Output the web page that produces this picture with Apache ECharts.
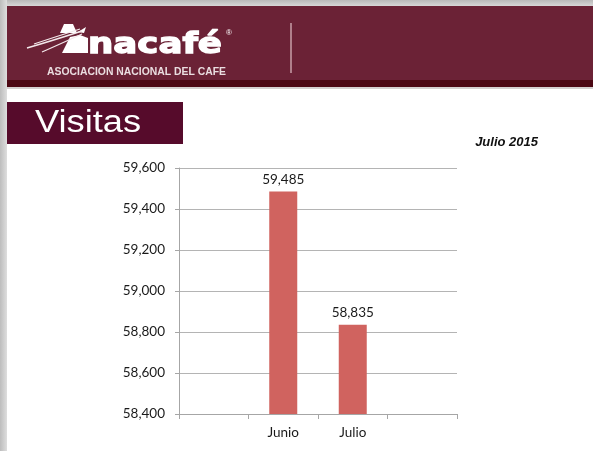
<!DOCTYPE html>
<html>
<head>
<meta charset="utf-8">
<title>Visitas - Julio 2015</title>
<script src="https://cdn.jsdelivr.net/npm/echarts@6/dist/echarts.min.js"></script>
<style>
  html, body { margin: 0; padding: 0; background: #ffffff; }
  #chart { width: 593px; height: 451px; }
</style>
</head>
<body>
<div id="chart"></div>
<script>
// Monthly visits
const categories = ['', 'Junio', 'Julio', ''];
const visitas = [null, 59485, 58835, null];
const yTicks = { min: 58400, max: 59600, step: 200 };

const withCommas = v => String(v).replace(/\B(?=(\d{3})+(?!\d))/g, ',');

const chart = echarts.init(document.getElementById('chart'), null, { renderer: 'canvas' });

const chartFont = 'Lato, "Open Sans", sans-serif';
const logoWhite = '#ffffff';

const option = {
  animation: false,
  backgroundColor: '#ffffff',
  graphic: [
    // page frame shadow
    { type: 'rect', z: -10, shape: { x: 0, y: 0, width: 593, height: 7 },
      style: { fill: new echarts.graphic.LinearGradient(0, 0, 0, 1, [
        { offset: 0, color: '#b9b9b9' }, { offset: 1, color: '#dcdcdc' }]) } },
    { type: 'rect', z: -10, shape: { x: 0, y: 0, width: 7, height: 451 },
      style: { fill: new echarts.graphic.LinearGradient(0, 0, 1, 0, [
        { offset: 0, color: '#bdbdbd' }, { offset: 1, color: '#dedede' }]) } },
    // header band
    { type: 'rect', shape: { x: 7, y: 6, width: 586, height: 74 }, style: { fill: '#6b2236' } },
    { type: 'rect', shape: { x: 7, y: 80, width: 586, height: 7 }, style: { fill: '#4b0713' } },
    { type: 'rect', shape: { x: 7, y: 87, width: 586, height: 2 }, style: { fill: '#d4d0d0' } },
    // separator
    { type: 'line', shape: { x1: 291, y1: 23, x2: 291, y2: 73 },
      style: { stroke: '#c79fa9', lineWidth: 1.5 } },
    // logo mark: stylised "A" with swooshes
    { type: 'polygon', shape: { points: [[60, 33], [64, 24], [73, 24], [77, 33]] },
      style: { fill: logoWhite } },
    { type: 'polygon', shape: { points: [[62, 53], [70, 37], [80, 35], [88, 38], [88, 53]] },
      style: { fill: logoWhite } },
    { type: 'polygon', shape: { points: [[78, 32], [86, 27], [84, 33]] },
      style: { fill: logoWhite } },
    { type: 'bezierCurve', shape: { x1: 27, y1: 48, cpx1: 48, cpy1: 42, x2: 82, y2: 31 },
      style: { stroke: '#f3e9eb', lineWidth: 1.5, fill: null } },
    { type: 'bezierCurve', shape: { x1: 34, y1: 44, cpx1: 52, cpy1: 38, x2: 80, y2: 29 },
      style: { stroke: '#f3e9eb', lineWidth: 1.2, fill: null } },
    { type: 'bezierCurve', shape: { x1: 42, y1: 52, cpx1: 58, cpy1: 45, x2: 82, y2: 34 },
      style: { stroke: '#f3e9eb', lineWidth: 1.2, fill: null } },
    { type: 'text', x: 88, y: 0, scaleX: 1.27, originX: 0,
      style: { x: 0, y: 45.5, text: 'nacafé', fill: logoWhite, stroke: logoWhite, lineWidth: 1.3,
      font: 'bold 28px "DejaVu Sans", sans-serif', verticalAlign: 'middle', align: 'left' } },
    { type: 'text', style: { x: 226, y: 33, text: '®', fill: logoWhite,
      font: '8px "Liberation Sans", Arial, sans-serif', verticalAlign: 'middle', align: 'left' } },
    { type: 'text', style: { x: 47, y: 72, text: 'ASOCIACION NACIONAL DEL CAFE', fill: '#eadde0',
      font: 'bold 10.4px "Liberation Sans", Arial, sans-serif', verticalAlign: 'middle', align: 'left' } },
    // section title
    { type: 'rect', shape: { x: 7, y: 102, width: 176, height: 42 }, style: { fill: '#560b2b' } },
    { type: 'text', x: 35, y: 0, scaleX: 1.17, originX: 0,
      style: { x: 0, y: 123.5, text: 'Visitas', fill: '#ffffff',
      font: '31px "Liberation Sans", Arial, sans-serif', verticalAlign: 'middle', align: 'left' } },
    { type: 'text', style: { x: 538, y: 142, text: 'Julio 2015', fill: '#111111',
      font: 'italic bold 13px "Liberation Sans", Arial, sans-serif', verticalAlign: 'middle', align: 'right' } }
  ],
  grid: { left: 179, right: 136, top: 168, bottom: 37 },
  xAxis: {
    type: 'category',
    data: categories,
    boundaryGap: true,
    axisLine: { show: true, lineStyle: { color: '#a6a6a6', width: 1 } },
    axisTick: { show: true, alignWithLabel: false, interval: 0, length: 5, lineStyle: { color: '#a6a6a6' } },
    axisLabel: { interval: 0, margin: 12, color: '#1a1a1a', fontSize: 13.5, fontFamily: chartFont }
  },
  yAxis: {
    type: 'value',
    min: yTicks.min,
    max: yTicks.max,
    interval: yTicks.step,
    axisLine: { show: true, lineStyle: { color: '#a6a6a6', width: 1 } },
    axisTick: { show: true, length: 4, lineStyle: { color: '#a6a6a6' } },
    axisLabel: { margin: 14, color: '#1a1a1a', fontSize: 13.5, fontFamily: chartFont,
      formatter: v => withCommas(v) },
    splitLine: { show: true, lineStyle: { color: '#b4b4b4', width: 1 } }
  },
  series: [{
    type: 'bar',
    data: visitas,
    barWidth: 28,
    itemStyle: { color: '#d0635f' },
    label: {
      show: true, position: 'top', distance: 5,
      color: '#1a1a1a', fontSize: 13.5, fontFamily: chartFont,
      formatter: p => withCommas(p.value)
    }
  }]
};

chart.setOption(option);
</script>
</body>
</html>
